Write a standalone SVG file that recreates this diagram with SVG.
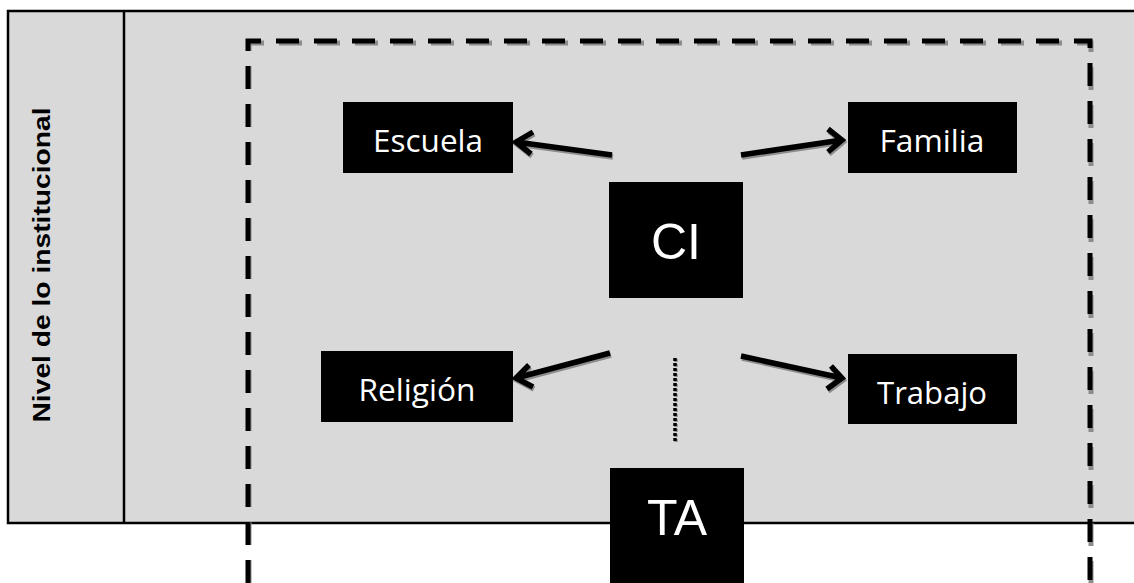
<svg xmlns="http://www.w3.org/2000/svg" width="1134" height="583" viewBox="0 0 1134 583">
<defs>
<style>
.box{fill:#000;}
.lbl{fill:#fff;font-family:"Open Sans","Noto Sans",sans-serif;font-size:31px;text-anchor:middle;}
.big{fill:#fff;font-family:"Liberation Sans",Arial,sans-serif;font-size:50px;text-anchor:middle;}
.arr{stroke:#000;stroke-width:5.5;fill:none;stroke-linecap:butt;}
.sh{stroke:#8c8c8c;stroke-width:5.5;fill:none;}
.dash{stroke:#000;stroke-width:5;fill:none;stroke-dasharray:23 15;}
.dashsh{stroke:#8c8c8c;stroke-width:5;fill:none;stroke-dasharray:23 15;}
</style>
</defs>
<rect x="0" y="0" width="1134" height="583" fill="#fff"/>
<g id="table">
<rect x="8" y="11" width="1130" height="512" fill="#d9d9d9" stroke="#000" stroke-width="2.5"/>
<line x1="124" y1="11" x2="124" y2="523" stroke="#000" stroke-width="2.5"/>
<text transform="translate(50,265) rotate(-90)" font-family="Liberation Sans,Arial,sans-serif" font-weight="bold" font-size="23" text-anchor="middle" textLength="315" lengthAdjust="spacingAndGlyphs">Nivel de lo  institucional</text>
</g>
<g id="frame">
<path class="dashsh" d="M249,583 V43 H1091 V583"/>
<path class="dash" d="M248,583 V41 H1090 V583"/>
</g>
<g id="connectors">
<g class="sh" transform="translate(1,2)">
<path d="M612,155 L516,142 M533,132 L516,142 L531,154"/>
<path d="M741,155 L842,140 M828,129 L842,140 L828,152"/>
<path d="M610,353 L516,378 M529,365 L516,378 L533,387"/>
<path d="M741,356 L842,378 M831,366 L842,378 L827,389"/>
</g>
<path class="arr" d="M612,155 L516,142 M533,132 L516,142 L531,154"/>
<path class="arr" d="M741,155 L842,140 M828,129 L842,140 L828,152"/>
<path class="arr" d="M610,353 L516,378 M529,365 L516,378 L533,387"/>
<path class="arr" d="M741,356 L842,378 M831,366 L842,378 L827,389"/>
<line x1="676" y1="359" x2="676" y2="443" stroke="#8c8c8c" stroke-width="3.5" stroke-dasharray="3 2"/>
<line x1="675" y1="358" x2="675" y2="442" stroke="#000" stroke-width="3.5" stroke-dasharray="3 2"/>
</g>
<g id="escuela">
<rect class="box" x="343" y="102" width="170" height="71"/>
<text class="lbl" x="428" y="152" textLength="110" lengthAdjust="spacingAndGlyphs">Escuela</text>
</g>
<g id="familia">
<rect class="box" x="848" y="102" width="169" height="71"/>
<text class="lbl" x="932" y="152" textLength="105" lengthAdjust="spacingAndGlyphs">Familia</text>
</g>
<g id="ci">
<rect class="box" x="609" y="182" width="134" height="116"/>
<text class="big" x="676" y="259">CI</text>
</g>
<g id="religion">
<rect class="box" x="321" y="351" width="192" height="71"/>
<text class="lbl" x="417" y="401" textLength="117" lengthAdjust="spacingAndGlyphs">Religión</text>
</g>
<g id="trabajo">
<rect class="box" x="848" y="354" width="169" height="70"/>
<text class="lbl" x="932" y="404" font-size="28" textLength="110" lengthAdjust="spacingAndGlyphs">Trabajo</text>
</g>
<g id="ta">
<rect class="box" x="610" y="468" width="134" height="120"/>
<text class="big" x="677" y="535">TA</text>
</g>
</svg>
